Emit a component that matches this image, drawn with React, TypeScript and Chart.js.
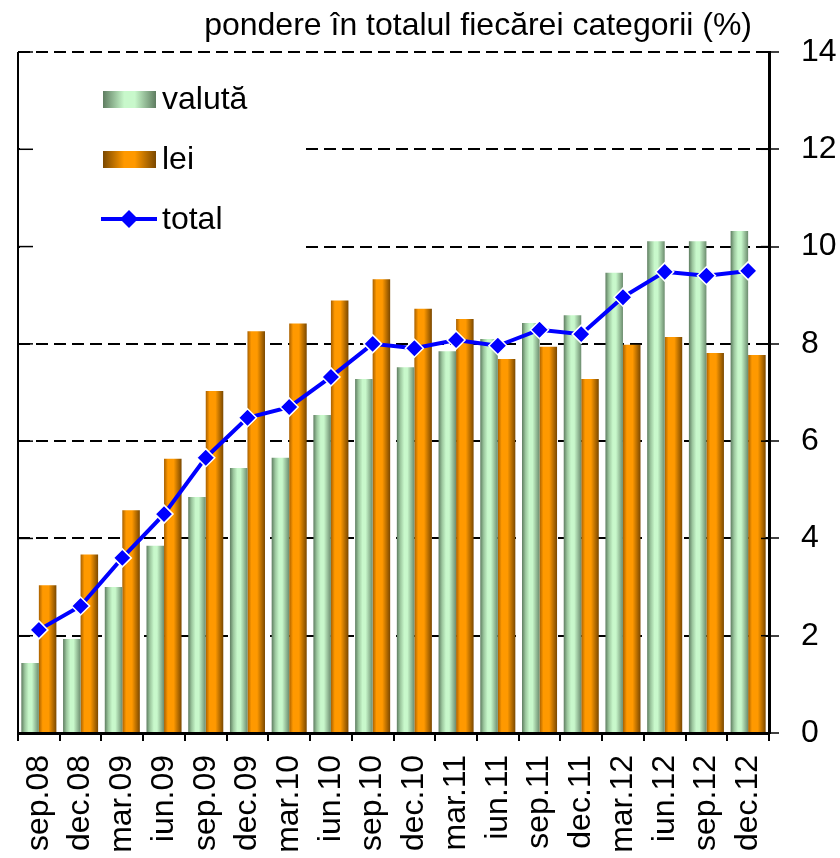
import React, { useEffect, useRef } from "react";
import { Chart, registerables } from "chart.js";

Chart.register(...registerables);

const categories = [
  "sep.08", "dec.08", "mar.09", "iun.09", "sep.09", "dec.09",
  "mar.10", "iun.10", "sep.10", "dec.10", "mar.11", "iun.11",
  "sep.11", "dec.11", "mar.12", "iun.12", "sep.12", "dec.12",
];
const valuta = [1.44, 1.93, 3.0, 3.85, 4.85, 5.45, 5.66, 6.54, 7.28, 7.52, 7.85, 8.1, 8.43, 8.59, 9.46, 10.11, 10.11, 10.32];
const lei = [3.04, 3.67, 4.58, 5.64, 7.03, 8.26, 8.42, 8.89, 9.33, 8.72, 8.51, 7.69, 7.94, 7.28, 7.98, 8.14, 7.81, 7.77];
const total = [2.12, 2.61, 3.6, 4.5, 5.66, 6.48, 6.7, 7.32, 8.0, 7.91, 8.08, 7.96, 8.29, 8.2, 8.96, 9.48, 9.4, 9.5];
const yTicks = [0, 2, 4, 6, 8, 10, 12, 14];
const seriesNames = ["valută", "lei", "total"];
const titleText = "pondere în totalul fiecărei categorii (%)";

const FONT = '"Liberation Sans", Arial, sans-serif';
const FS = 32;
const CAT_PCT = 0.84;

const greenStops: [number, string][] = [
  [0, "#5f7d61"], [0.2, "#9cc79e"], [0.42, "#c8f8cb"], [0.6, "#c8f8cb"], [1, "#6c8c6e"],
];
const orangeStops: [number, string][] = [
  [0, "#a86000"], [0.22, "#ff9900"], [0.55, "#ff9900"], [1, "#7a4800"],
];
const legendGreen: [number, string][] = [
  [0, "#5f7d61"], [0.4, "#c8f8cb"], [0.6, "#c8f8cb"], [1, "#5f7d61"],
];
const legendOrange: [number, string][] = [
  [0, "#7a4800"], [0.4, "#ff9900"], [0.6, "#ff9900"], [1, "#7a4800"],
];

function makeGrad(c: CanvasRenderingContext2D, x0: number, x1: number, stops: [number, string][]) {
  const g = c.createLinearGradient(x0, 0, x1, 0);
  stops.forEach(([p, col]) => g.addColorStop(p, col));
  return g;
}

function barColor(stops: [number, string][], fallback: string) {
  return (ctx: any) => {
    const chart = ctx.chart;
    const xs = chart.scales && chart.scales.x;
    if (!xs || !chart.chartArea || ctx.dataIndex === undefined || xs.width <= 0) return fallback;
    const catW = xs.width / categories.length;
    const center = xs.getPixelForValue(ctx.dataIndex);
    const bw = (catW * CAT_PCT) / 2;
    const left = ctx.datasetIndex === 0 ? center - bw : center;
    return makeGrad(chart.ctx, left, left + bw, stops);
  };
}

const decorPlugin = {
  id: "decor",
  beforeDatasetsDraw(chart: any) {
    const { ctx, chartArea } = chart;
    ctx.save();
    ctx.fillStyle = "#ffffff";
    ctx.fillRect(chartArea.left + 2, chartArea.top + 3, 306 - chartArea.left - 2, 252 - chartArea.top - 3);
    ctx.restore();
  },
  afterDraw(chart: any) {
    const { ctx, chartArea, scales } = chart;
    const ys = scales.y;
    ctx.save();
    ctx.strokeStyle = "#000";
    ctx.lineWidth = 2;
    ctx.beginPath();
    ctx.moveTo(chartArea.left, chartArea.top);
    ctx.lineTo(chartArea.left, chartArea.bottom);
    ctx.stroke();
    ctx.lineWidth = 1.5;
    yTicks.forEach((v) => {
      const y = ys.getPixelForValue(v);
      ctx.beginPath();
      ctx.moveTo(chartArea.left, y);
      ctx.lineTo(chartArea.left + 15, y);
      ctx.stroke();
      ctx.beginPath();
      ctx.moveTo(chartArea.right - 8, y);
      ctx.lineTo(chartArea.right, y);
      ctx.stroke();
    });
    ctx.fillStyle = "#000";
    ctx.font = `${FS}px ${FONT}`;
    ctx.textAlign = "right";
    ctx.textBaseline = "middle";
    ctx.fillText(titleText, 752, 26);
    ctx.textAlign = "left";
    ctx.fillStyle = makeGrad(ctx, 103, 156, legendGreen);
    ctx.fillRect(103, 91, 53, 17);
    ctx.fillStyle = makeGrad(ctx, 103, 156, legendOrange);
    ctx.fillRect(103, 151, 53, 17);
    ctx.strokeStyle = "#0000ff";
    ctx.lineWidth = 4;
    ctx.beginPath();
    ctx.moveTo(101, 219);
    ctx.lineTo(157, 219);
    ctx.stroke();
    ctx.fillStyle = "#0000ff";
    ctx.beginPath();
    ctx.moveTo(129, 210);
    ctx.lineTo(138, 219);
    ctx.lineTo(129, 228);
    ctx.lineTo(120, 219);
    ctx.closePath();
    ctx.fill();
    ctx.fillStyle = "#000";
    ctx.fillText(seriesNames[0], 162, 100);
    ctx.fillText(seriesNames[1], 162, 160);
    ctx.fillText(seriesNames[2], 162, 220);
    ctx.restore();
  },
};

export default function App() {
  const ref = useRef<HTMLCanvasElement | null>(null);
  useEffect(() => {
    if (!ref.current) return;
    const chart = new Chart(ref.current, {
      type: "bar",
      data: {
        labels: categories,
        datasets: [
          {
            type: "bar",
            label: seriesNames[0],
            data: valuta,
            backgroundColor: barColor(greenStops, "#b0e0b2"),
            borderWidth: 0,
            categoryPercentage: CAT_PCT,
            barPercentage: 1,
          } as any,
          {
            type: "bar",
            label: seriesNames[1],
            data: lei,
            backgroundColor: barColor(orangeStops, "#ff9900"),
            borderWidth: 0,
            categoryPercentage: CAT_PCT,
            barPercentage: 1,
          } as any,
          {
            type: "line",
            label: seriesNames[2],
            data: total,
            order: -1,
            borderColor: "#0000ff",
            borderWidth: 4,
            tension: 0,
            pointStyle: "rectRot",
            pointRadius: 9,
            pointBackgroundColor: "#0000ff",
            pointBorderColor: "#ffffff",
            pointBorderWidth: 1.5,
          } as any,
        ],
      },
      options: {
        animation: false,
        responsive: true,
        maintainAspectRatio: false,
        layout: { padding: { top: 52, left: 18, right: 0, bottom: 0 } },
        plugins: {
          legend: { display: false },
          tooltip: { enabled: false },
          title: { display: false },
        },
        scales: {
          x: {
            offset: true,
            grid: {
              offset: true,
              drawOnChartArea: false,
              drawTicks: true,
              tickLength: 8,
              color: "#000",
              lineWidth: 2,
            },
            border: { display: true, color: "#000", width: 3 },
            ticks: {
              autoSkip: false,
              maxRotation: 90,
              minRotation: 90,
              padding: 14,
              color: "#000",
              font: { family: FONT, size: FS },
            },
            afterFit(scale: any) {
              scale.height = 125;
            },
          },
          y: {
            position: "right",
            min: 0,
            max: 14,
            ticks: {
              stepSize: 2,
              padding: 22,
              color: "#000",
              font: { family: FONT, size: FS },
            },
            grid: {
              color: "#000",
              lineWidth: 2,
              drawTicks: true,
              tickLength: 10,
              tickColor: "#000",
              tickWidth: 1.5,
            },
            border: { display: true, color: "#000", width: 3, dash: [12, 6] },
            afterFit(scale: any) {
              scale.width = 71;
            },
          },
        },
      },
      plugins: [decorPlugin],
    });
    return () => chart.destroy();
  }, []);
  return (
    <div style={{ position: "absolute", left: 0, top: 0, width: 840, height: 858, background: "#fff" }}>
      <canvas ref={ref} style={{ display: "block" }} />
    </div>
  );
}
